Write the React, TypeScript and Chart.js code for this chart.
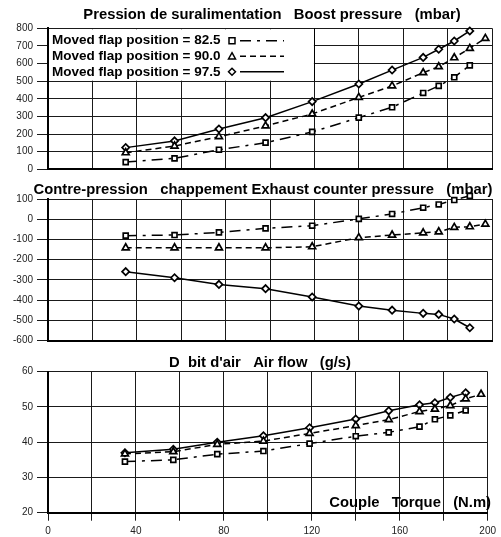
import React, { useEffect, useRef } from 'react';
import { Chart, registerables } from 'chart.js';
Chart.register(...registerables);

// Torque (N.m)
const torque82 = [35, 57, 77, 98, 119, 140, 155, 169, 176, 183, 190];
const torque90 = [35, 57, 77, 98, 119, 140, 155, 169, 176, 183, 190, 197];
const torque97 = [35, 57, 77, 98, 119, 140, 155, 169, 176, 183, 190];

// Boost pressure (mbar)
const boost82 = [41, 62, 111, 151, 212, 293, 352, 433, 473, 522, 590];
const boost90 = [94, 132, 185, 246, 314, 408, 473, 548, 582, 633, 686, 743];
const boost97 = [123, 161, 229, 293, 384, 484, 563, 635, 681, 728, 785];

// Exhaust counter pressure (mbar)
const exh82 = [-81, -78, -65, -45, -32, 2, 26, 57, 73, 95, 116];
const exh90 = [-141, -141, -141, -141, -136, -91, -78, -67, -62, -40, -37, -24];
const exh97 = [-259, -289, -322, -343, -384, -429, -449, -465, -470, -493, -536];

// Air flow (g/s)
const air82 = [34.5, 35.0, 36.6, 37.5, 39.6, 41.7, 42.8, 44.4, 46.5, 47.6, 49.0];
const air90 = [36.7, 37.3, 39.4, 40.3, 42.5, 44.7, 46.4, 48.7, 49.4, 50.4, 52.3, 53.6];
const air97 = [37.0, 38.0, 40.0, 41.8, 44.1, 46.6, 48.9, 50.6, 51.2, 52.7, 54.0];

const seriesLabels = ['Moved flap position = 82.5', 'Moved flap position = 90.0', 'Moved flap position = 97.5'];
const xTickLabels = [0, 40, 80, 120, 160, 200];

const FONT = 'Arial, "Liberation Sans", sans-serif';
const styles = [
  { pointStyle: 'rect', radius: 3.5, dash: [11, 6, 3, 6] },
  { pointStyle: 'triangle', radius: 4, dash: [6, 4] },
  { pointStyle: 'rectRot', radius: 3.6, dash: [] as number[] },
];

function pts(xs: number[], ys: number[]) {
  return xs.map((x, i) => ({ x, y: ys[i] }));
}

function makeDatasets(ys: number[][]) {
  const xs = [torque82, torque90, torque97];
  return ys.map((y, i) => ({
    label: seriesLabels[i],
    data: pts(xs[i], y),
    borderColor: '#000',
    borderWidth: 1.5,
    borderDash: styles[i].dash,
    pointStyle: styles[i].pointStyle as any,
    pointRadius: styles[i].radius,
    pointBackgroundColor: '#fff',
    pointBorderColor: '#000',
    pointBorderWidth: 1.7,
    tension: 0,
    fill: false,
    clip: false as any,
  }));
}

function drawMarker(ctx: CanvasRenderingContext2D, style: string, x: number, y: number, r: number) {
  ctx.beginPath();
  if (style === 'rect') {
    ctx.rect(x - r, y - r, 2 * r, 2 * r);
  } else if (style === 'triangle') {
    ctx.moveTo(x, y - r);
    ctx.lineTo(x + r, y + r * 0.8);
    ctx.lineTo(x - r, y + r * 0.8);
    ctx.closePath();
  } else {
    ctx.moveTo(x, y - r);
    ctx.lineTo(x + r, y);
    ctx.lineTo(x, y + r);
    ctx.lineTo(x - r, y);
    ctx.closePath();
  }
  ctx.fillStyle = '#fff';
  ctx.fill();
  ctx.strokeStyle = '#000';
  ctx.lineWidth = 1.5;
  ctx.setLineDash([]);
  ctx.stroke();
}

type TextItem = { text: string; x: number; y: number; align: CanvasTextAlign };

function textPlugin(items: TextItem[]) {
  return {
    id: 'texts',
    afterDraw(chart: any) {
      const ctx = chart.ctx as CanvasRenderingContext2D;
      ctx.save();
      ctx.font = `bold 14.8px ${FONT}`;
      ctx.fillStyle = '#000';
      ctx.textBaseline = 'middle';
      items.forEach((t) => {
        ctx.textAlign = t.align;
        ctx.fillText(t.text, t.x, t.y);
      });
      ctx.restore();
    },
  };
}

const legendPlugin = {
  id: 'boxLegend',
  beforeDatasetsDraw(chart: any) {
    const ctx = chart.ctx as CanvasRenderingContext2D;
    const xs = chart.scales.x;
    const ys = chart.scales.y;
    const l = xs.getPixelForValue(0);
    const r = xs.getPixelForValue(120);
    const t = ys.getPixelForValue(800);
    const b = ys.getPixelForValue(500);
    ctx.save();
    ctx.fillStyle = '#fff';
    ctx.fillRect(l + 1, t + 1, r - l - 1.5, b - t - 1.5);
    ctx.strokeStyle = '#000';
    ctx.lineWidth = 1;
    ctx.beginPath();
    ctx.moveTo(Math.round(r) + 0.5, t);
    ctx.lineTo(Math.round(r) + 0.5, b);
    ctx.stroke();
    ctx.font = `bold 13.5px ${FONT}`;
    ctx.fillStyle = '#000';
    ctx.textBaseline = 'middle';
    ctx.textAlign = 'left';
    const rows = [40.7, 56.2, 71.8];
    seriesLabels.forEach((lab, i) => {
      const y = rows[i];
      ctx.fillStyle = '#000';
      ctx.fillText(lab, 52, y);
      ctx.beginPath();
      ctx.setLineDash(styles[i].dash);
      ctx.strokeStyle = '#000';
      ctx.lineWidth = 1.5;
      ctx.moveTo(240, y);
      ctx.lineTo(284, y);
      ctx.stroke();
      drawMarker(ctx, styles[i].pointStyle, 232, y, styles[i].pointStyle === 'rect' ? 3 : 3.5);
    });
    ctx.restore();
  },
};

function yScale(min: number, max: number, step: number) {
  return {
    type: 'linear' as const,
    min,
    max,
    afterFit: (s: any) => {
      s.width = 48;
    },
    ticks: {
      stepSize: step,
      color: '#222',
      padding: 4,
      font: { size: 10, family: FONT },
    },
    grid: { color: '#1a1a1a', lineWidth: 1, tickLength: 11, drawTicks: true },
    border: { display: true, color: '#000', width: 2 },
  };
}

function xScale(showLabels: boolean) {
  return {
    type: 'linear' as const,
    min: 0,
    max: 200,
    afterFit: (s: any) => {
      s.height = showLabels ? 24 : 0;
    },
    ticks: {
      display: showLabels,
      stepSize: 20,
      autoSkip: false,
      maxRotation: 0,
      padding: 5,
      color: '#222',
      font: { size: 10, family: FONT },
      callback: (v: any) => (xTickLabels.includes(Number(v)) ? String(v) : ''),
    },
    grid: { color: '#1a1a1a', lineWidth: 1, tickLength: 8, drawTicks: showLabels },
    border: { display: true, color: '#000', width: 2 },
  };
}

function makeConfig(ys: number[][], yr: [number, number, number], showX: boolean, pad: { top: number; bottom: number }, extra: any[]) {
  return {
    type: 'line' as const,
    data: { datasets: makeDatasets(ys) as any },
    options: {
      animation: false as const,
      responsive: false,
      maintainAspectRatio: false,
      layout: { padding: { left: 0, right: 9, top: pad.top, bottom: pad.bottom } },
      plugins: { legend: { display: false }, tooltip: { enabled: false }, title: { display: false } },
      scales: { x: xScale(showX), y: yScale(yr[0], yr[1], yr[2]) },
    },
    plugins: extra,
  };
}

export default function App() {
  const r1 = useRef<HTMLCanvasElement>(null);
  const r2 = useRef<HTMLCanvasElement>(null);
  const r3 = useRef<HTMLCanvasElement>(null);

  useEffect(() => {
    document.body.style.margin = '0';
    const c1 = new Chart(
      r1.current!,
      makeConfig([boost82, boost90, boost97], [0, 800, 100], false, { top: 28.3, bottom: 10.7 }, [
        legendPlugin,
        textPlugin([{ text: 'Pression de suralimentation   Boost pressure   (mbar)', x: 272, y: 15, align: 'center' }]),
      ]) as any
    );
    const c2 = new Chart(
      r2.current!,
      makeConfig([exh82, exh90, exh97], [-600, 100, 100], false, { top: 19, bottom: 11.3 }, [
        textPlugin([{ text: 'Contre-pression   chappement Exhaust counter pressure   (mbar)', x: 263, y: 10, align: 'center' }]),
      ]) as any
    );
    const c3 = new Chart(
      r3.current!,
      makeConfig([air82, air90, air97], [20, 60, 10], true, { top: 19.7, bottom: 0.3 }, [
        textPlugin([
          { text: "D  bit d'air   Air flow   (g/s)", x: 260, y: 11, align: 'center' },
          { text: 'Couple   Torque   (N.m)', x: 491, y: 151, align: 'right' },
        ]),
      ]) as any
    );
    return () => {
      c1.destroy();
      c2.destroy();
      c3.destroy();
    };
  }, []);

  return (
    <div style={{ position: 'absolute', left: 0, top: 0, width: 501, height: 537, background: '#fff' }}>
      <canvas ref={r1} width={501} height={180} style={{ position: 'absolute', left: 0, top: 0 }} />
      <canvas ref={r2} width={501} height={172} style={{ position: 'absolute', left: 0, top: 180 }} />
      <canvas ref={r3} width={501} height={185} style={{ position: 'absolute', left: 0, top: 352 }} />
    </div>
  );
}
